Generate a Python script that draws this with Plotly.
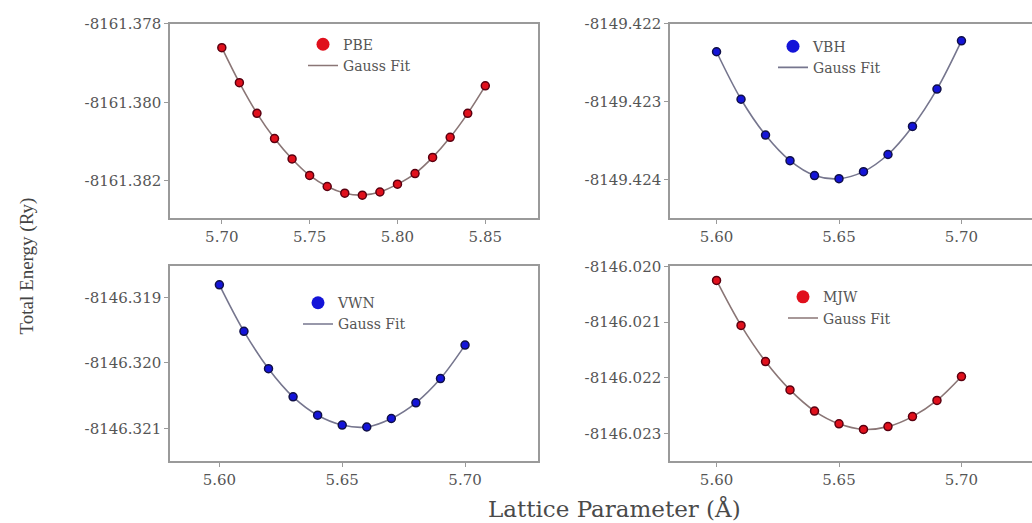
import plotly.graph_objects as go

# ---------------- data ----------------
pbe_x = [5.70, 5.71, 5.72, 5.73, 5.74, 5.75, 5.76, 5.77, 5.78, 5.79, 5.80, 5.81, 5.82, 5.83, 5.84, 5.85]
pbe_y = [-8161.37861, -8161.37950, -8161.38028, -8161.38092, -8161.38144, -8161.38186,
         -8161.38214, -8161.38231, -8161.38236, -8161.38228, -8161.38208, -8161.38181,
         -8161.38140, -8161.38089, -8161.38028, -8161.37958]

vbh_x = [5.60, 5.61, 5.62, 5.63, 5.64, 5.65, 5.66, 5.67, 5.68, 5.69, 5.70]
vbh_y = [-8149.42236, -8149.42297, -8149.42343, -8149.42376, -8149.42395, -8149.42399,
         -8149.42390, -8149.42368, -8149.42332, -8149.42284, -8149.42222]

vwn_x = [5.60, 5.61, 5.62, 5.63, 5.64, 5.65, 5.66, 5.67, 5.68, 5.69, 5.70]
vwn_y = [-8146.31881, -8146.31952, -8146.32009, -8146.32052, -8146.32080, -8146.32095,
         -8146.32098, -8146.32085, -8146.32061, -8146.32024, -8146.31973]

mjw_x = [5.60, 5.61, 5.62, 5.63, 5.64, 5.65, 5.66, 5.67, 5.68, 5.69, 5.70]
mjw_y = [-8146.02025, -8146.02106, -8146.02171, -8146.02222, -8146.02260, -8146.02283,
         -8146.02293, -8146.02288, -8146.02270, -8146.02241, -8146.02198]

pbe_xticks = [5.70, 5.75, 5.80, 5.85]
lda_xticks = [5.60, 5.65, 5.70]
pbe_yticks = [-8161.382, -8161.380, -8161.378]
vbh_yticks = [-8149.424, -8149.423, -8149.422]
vwn_yticks = [-8146.321, -8146.320, -8146.319]
mjw_yticks = [-8146.023, -8146.022, -8146.021, -8146.020]

series_names = ["PBE", "VBH", "VWN", "MJW"]
fit_name = "Gauss Fit"
x_title = "Lattice Parameter (Å)"
y_title = "Total Energy (Ry)"

# ---------------- figure ----------------
W, H = 1032, 523
FONT = "DejaVu Serif"
RED, RED_EDGE, RED_LINE = "#e0101c", "#5a0010", "#8a7676"
BLUE, BLUE_EDGE, BLUE_LINE = "#1414d8", "#101048", "#76768e"

panels = [
    dict(x=pbe_x, y=pbe_y, name=series_names[0], col=(RED, RED_EDGE, RED_LINE),
         xdom=(170, 538), ydom=(15, 213), xr=(5.6705, 5.880), yr=(-8161.38295, -8161.378),
         xt=pbe_xticks, yt=pbe_yticks, leg=(303, 20), ymirror=True),
    dict(x=vbh_x, y=vbh_y, name=series_names[1], col=(BLUE, BLUE_EDGE, BLUE_LINE),
         xdom=(670, 1032), ydom=(15, 213), xr=(5.581, 5.7288), yr=(-8149.4245, -8149.422),
         xt=lda_xticks, yt=vbh_yticks, leg=(773, 22), ymirror=False),
    dict(x=vwn_x, y=vwn_y, name=series_names[2], col=(BLUE, BLUE_EDGE, BLUE_LINE),
         xdom=(170, 538), ydom=(262, 460), xr=(5.5799, 5.7297), yr=(-8146.3215, -8146.31853),
         xt=lda_xticks, yt=vwn_yticks, leg=(298, 283), ymirror=True),
    dict(x=mjw_x, y=mjw_y, name=series_names[3], col=(RED, RED_EDGE, RED_LINE),
         xdom=(670, 1032), ydom=(262, 460), xr=(5.581, 5.7288), yr=(-8146.0235, -8146.020),
         xt=lda_xticks, yt=mjw_yticks, leg=(783, 277), ymirror=False),
]

fig = go.Figure()
layout = dict(width=W, height=H, margin=dict(l=0, r=0, t=0, b=0),
              paper_bgcolor="white", plot_bgcolor="white", showlegend=True)

tickfont = dict(family=FONT, size=15, color="#555555")
for i, p in enumerate(panels, start=1):
    sfx = "" if i == 1 else str(i)
    legname = "legend" if i == 1 else f"legend{i}"
    mc, me, lc = p["col"]
    # legend-only entry for the data markers (larger, like the original legend)
    fig.add_trace(go.Scatter(
        x=[None], y=[None], mode="markers", name=p["name"],
        marker=dict(color=mc, size=13),
        xaxis="x" + sfx, yaxis="y" + sfx, legend=legname))
    fig.add_trace(go.Scatter(
        x=p["x"], y=p["y"], mode="lines", name=fit_name,
        line=dict(color=lc, width=1.6, shape="spline"),
        xaxis="x" + sfx, yaxis="y" + sfx, legend=legname))
    fig.add_trace(go.Scatter(
        x=p["x"], y=p["y"], mode="markers", name=p["name"], showlegend=False,
        marker=dict(color=mc, size=8, line=dict(color=me, width=1.5)),
        xaxis="x" + sfx, yaxis="y" + sfx))
    common = dict(showgrid=False, zeroline=False, showline=True, linecolor="#9a9a9a",
                  linewidth=1.5, ticks="outside", ticklen=4, tickcolor="#9a9a9a",
                  tickfont=tickfont)
    layout["xaxis" + sfx] = dict(
        domain=[p["xdom"][0] / W, p["xdom"][1] / W], range=list(p["xr"]),
        tickvals=p["xt"], ticktext=[f"{v:.2f}" for v in p["xt"]],
        anchor="y" + sfx, mirror=True, **common)
    layout["yaxis" + sfx] = dict(
        domain=[1 - p["ydom"][1] / H, 1 - p["ydom"][0] / H], range=list(p["yr"]),
        tickvals=p["yt"], ticktext=[f"{v:.3f}" for v in p["yt"]],
        anchor="x" + sfx, mirror=p["ymirror"], **common)
    layout[legname] = dict(
        x=p["leg"][0] / W, y=1 - p["leg"][1] / H, xanchor="left", yanchor="top",
        bgcolor="rgba(0,0,0,0)", borderwidth=0, itemsizing="trace",
        font=dict(family=FONT, size=14, color="#555555"), tracegroupgap=0)

fig.update_layout(**layout)

fig.add_annotation(text=y_title, x=27 / W, y=1 - 262 / H, xref="paper", yref="paper",
                   xanchor="center", yanchor="middle",
                   textangle=-90, showarrow=False,
                   font=dict(family="Liberation Serif", size=19, color="#444444"))
fig.add_annotation(text=x_title, x=614 / W, y=1 - 508 / H, xref="paper", yref="paper",
                   xanchor="center", yanchor="middle",
                   showarrow=False,
                   font=dict(family=FONT, size=23, color="#4a4a4a"))

fig.write_html("out.html")
